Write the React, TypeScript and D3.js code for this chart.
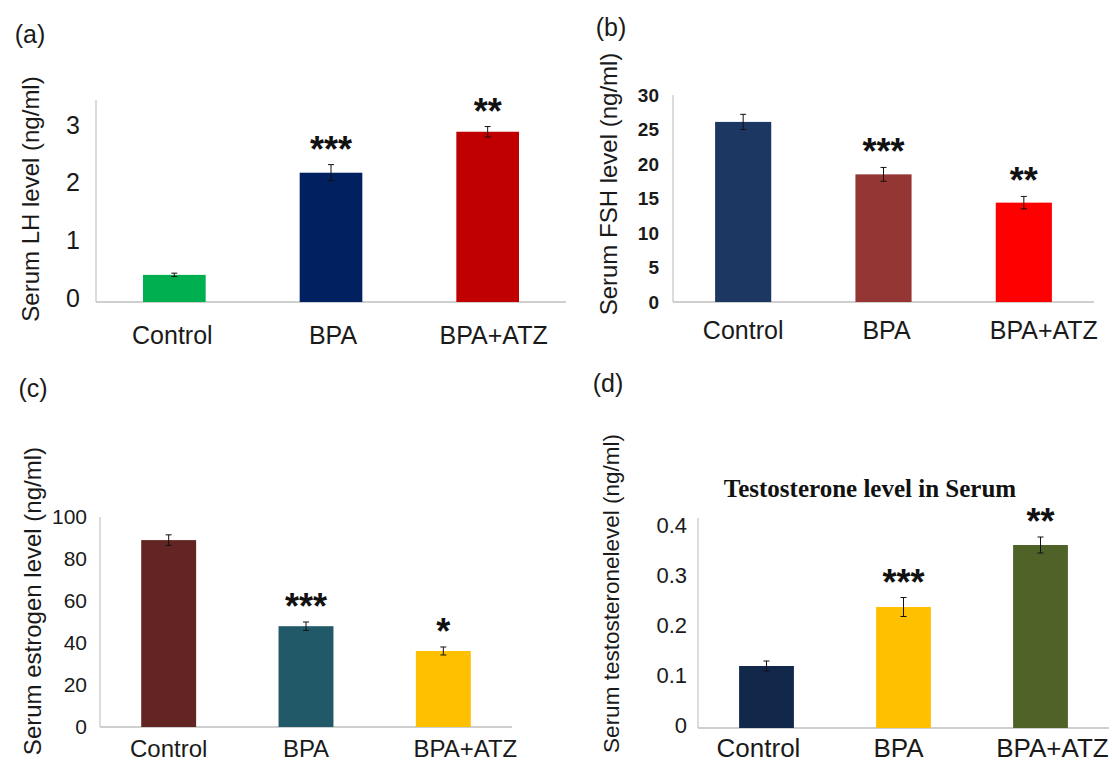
import React, { useRef, useEffect } from "react";
import * as d3 from "d3";

const width = 1112;
const height = 765;

const categories = ["Control", "BPA", "BPA+ATZ"];

// (a) LH
const lhValues = [0.47, 2.24, 2.95];
const lhErrors = [0.03, 0.14, 0.09];
const lhStars = ["", "***", "**"];
const lhTicks = ["0", "1", "2", "3"];
const lhColors = ["#00b050", "#002060", "#c00000"];

// (b) FSH
const fshValues = [26.1, 18.5, 14.4];
const fshErrors = [1.1, 1.0, 0.9];
const fshStars = ["", "***", "**"];
const fshTicks = ["0", "5", "10", "15", "20", "25", "30"];
const fshColors = ["#1c3761", "#943634", "#ff0000"];

// (c) estrogen
const estValues = [89, 48, 36.2];
const estErrors = [2.5, 2.0, 1.9];
const estStars = ["", "***", "*"];
const estTicks = ["0", "20", "40", "60", "80", "100"];
const estColors = ["#632523", "#215968", "#ffc000"];

// (d) testosterone
const testoValues = [0.124, 0.242, 0.366];
const testoErrors = [0.01, 0.019, 0.016];
const testoStars = ["", "***", "**"];
const testoTicks = ["0", "0.1", "0.2", "0.3", "0.4"];
const testoColors = ["#11284b", "#ffc000", "#4f6228"];

const sans = "'Liberation Sans', Arial, sans-serif";

const panels = [
  {
    tag: "(a)", tagX: 30, tagY: 34,
    ylabel: "Serum LH level (ng/ml)", ylabelX: 31, ylabelY: 199, ylabelAnchor: "middle", ylabelSize: 24,
    values: lhValues, errors: lhErrors, stars: lhStars, ticks: lhTicks, colors: lhColors,
    x0: 96, x1: 566, y0: 302, y1: 100, max: 3.5,
    tickSize: 25, tickBold: false, tickRight: 80, tickDy: -4,
    catSize: 25, catY: 335, catDx: [-2, 2, 6],
  },
  {
    tag: "(b)", tagX: 611, tagY: 27,
    ylabel: "Serum FSH level (ng/ml)", ylabelX: 609, ylabelY: 184, ylabelAnchor: "middle", ylabelSize: 24,
    values: fshValues, errors: fshErrors, stars: fshStars, ticks: fshTicks, colors: fshColors,
    x0: 673, x1: 1094, y0: 302, y1: 95, max: 30,
    tickSize: 19, tickBold: true, tickRight: 659, tickDy: 0,
    catSize: 25, catY: 330, catDx: [0, 3, 20],
  },
  {
    tag: "(c)", tagX: 33, tagY: 388,
    ylabel: "Serum estrogen level (ng/ml)", ylabelX: 33, ylabelY: 447, ylabelAnchor: "end", ylabelSize: 24,
    values: estValues, errors: estErrors, stars: estStars, ticks: estTicks, colors: estColors,
    x0: 100, x1: 512, y0: 727, y1: 517, max: 100,
    tickSize: 21, tickBold: false, tickRight: 87, tickDy: 0,
    catSize: 24, catY: 749, catDx: [0, 0, 22],
  },
  {
    tag: "(d)", tagX: 608, tagY: 383,
    ylabel: "Serum testosteronelevel (ng/ml)", ylabelX: 611, ylabelY: 434, ylabelAnchor: "end", ylabelSize: 22.5,
    values: testoValues, errors: testoErrors, stars: testoStars, ticks: testoTicks, colors: testoColors,
    x0: 698, x1: 1109, y0: 728, y1: 518, max: 0.42,
    tickSize: 22, tickBold: false, tickRight: 687, tickDy: -3,
    catSize: 26, catY: 748, catDx: [-8, -5, 12],
    title: "Testosterone level in Serum", titleX: 870, titleY: 488,
  },
];

const App = () => {
  const ref = useRef(null);

  useEffect(() => {
    const svg = d3.select(ref.current);
    svg.selectAll("*").remove();
    svg.attr("width", width).attr("height", height);
    svg.append("rect").attr("width", width).attr("height", height).attr("fill", "#fff");
    panels.forEach((p) => draw(svg, p));
  }, []);

  const draw = (svg, p) => {
    const g = svg.append("g");

    const x = d3.scaleBand().domain(categories).range([p.x0, p.x1]).paddingInner(0).paddingOuter(0);
    const y = d3.scaleLinear().domain([0, p.max]).range([p.y0, p.y1]);
    const bw = x.bandwidth() * 0.4;
    const cx = (i) => x(categories[i]) + x.bandwidth() / 2;

    // axis lines, no ticks
    g.append("line")
      .attr("x1", p.x0).attr("x2", p.x0).attr("y1", p.y1).attr("y2", p.y0)
      .attr("stroke", "#d0d0d0").attr("stroke-width", 1.5);
    g.append("line")
      .attr("x1", p.x0).attr("x2", p.x1).attr("y1", p.y0).attr("y2", p.y0)
      .attr("stroke", "#bfbfbf").attr("stroke-width", 1.5);

    // tick labels
    g.selectAll(".tick")
      .data(p.ticks)
      .enter()
      .append("text")
      .attr("x", p.tickRight)
      .attr("y", (d) => y(+d) + p.tickDy)
      .attr("dy", "0.35em")
      .attr("text-anchor", "end")
      .attr("font-family", sans)
      .attr("font-size", p.tickSize)
      .attr("font-weight", p.tickBold ? "bold" : "normal")
      .attr("fill", "#1a1a1a")
      .text((d) => d);

    // bars
    g.selectAll(".bar")
      .data(p.values)
      .enter()
      .append("rect")
      .attr("x", (d, i) => cx(i) - bw / 2)
      .attr("y", (d) => y(d))
      .attr("width", bw)
      .attr("height", (d) => p.y0 - y(d))
      .attr("fill", (d, i) => p.colors[i]);

    // error bars
    p.values.forEach((v, i) => {
      const e = p.errors[i];
      const eg = g.append("g").attr("stroke", "#111").attr("stroke-width", 1);
      eg.append("line").attr("x1", cx(i)).attr("x2", cx(i)).attr("y1", y(v + e)).attr("y2", y(v - e));
      eg.append("line").attr("x1", cx(i) - 3).attr("x2", cx(i) + 3).attr("y1", y(v + e)).attr("y2", y(v + e));
      eg.append("line").attr("x1", cx(i) - 3).attr("x2", cx(i) + 3).attr("y1", y(v - e)).attr("y2", y(v - e));
    });

    // significance stars
    g.selectAll(".star")
      .data(p.stars)
      .enter()
      .append("text")
      .attr("x", (d, i) => cx(i))
      .attr("y", (d, i) => y(p.values[i] + p.errors[i]) - 3)
      .attr("text-anchor", "middle")
      .attr("font-family", sans)
      .attr("font-size", 36)
      .attr("font-weight", "bold")
      .attr("fill", "#111")
      .text((d) => d);

    // category labels
    g.selectAll(".cat")
      .data(categories)
      .enter()
      .append("text")
      .attr("x", (d, i) => cx(i) + p.catDx[i])
      .attr("y", p.catY)
      .attr("dy", "0.35em")
      .attr("text-anchor", "middle")
      .attr("font-family", sans)
      .attr("font-size", p.catSize)
      .attr("fill", "#1a1a1a")
      .text((d) => d);

    // y label
    g.append("text")
      .attr("transform", `translate(${p.ylabelX},${p.ylabelY}) rotate(-90)`)
      .attr("dy", "0.35em")
      .attr("text-anchor", p.ylabelAnchor)
      .attr("font-family", sans)
      .attr("font-size", p.ylabelSize)
      .attr("fill", "#1a1a1a")
      .text(p.ylabel);

    // panel tag
    g.append("text")
      .attr("x", p.tagX)
      .attr("y", p.tagY)
      .attr("dy", "0.35em")
      .attr("text-anchor", "middle")
      .attr("font-family", sans)
      .attr("font-size", 25)
      .attr("fill", "#1a1a1a")
      .text(p.tag);

    if (p.title) {
      g.append("text")
        .attr("x", p.titleX)
        .attr("y", p.titleY)
        .attr("dy", "0.35em")
        .attr("text-anchor", "middle")
        .attr("font-family", "'Liberation Serif', 'Times New Roman', serif")
        .attr("font-size", 25)
        .attr("font-weight", "bold")
        .attr("fill", "#111")
        .text(p.title);
    }
  };

  return (
    <div id="chart" style={{ position: "absolute", left: 0, top: 0 }}>
      <svg ref={ref} style={{ display: "block" }}></svg>
    </div>
  );
};

export default App;
